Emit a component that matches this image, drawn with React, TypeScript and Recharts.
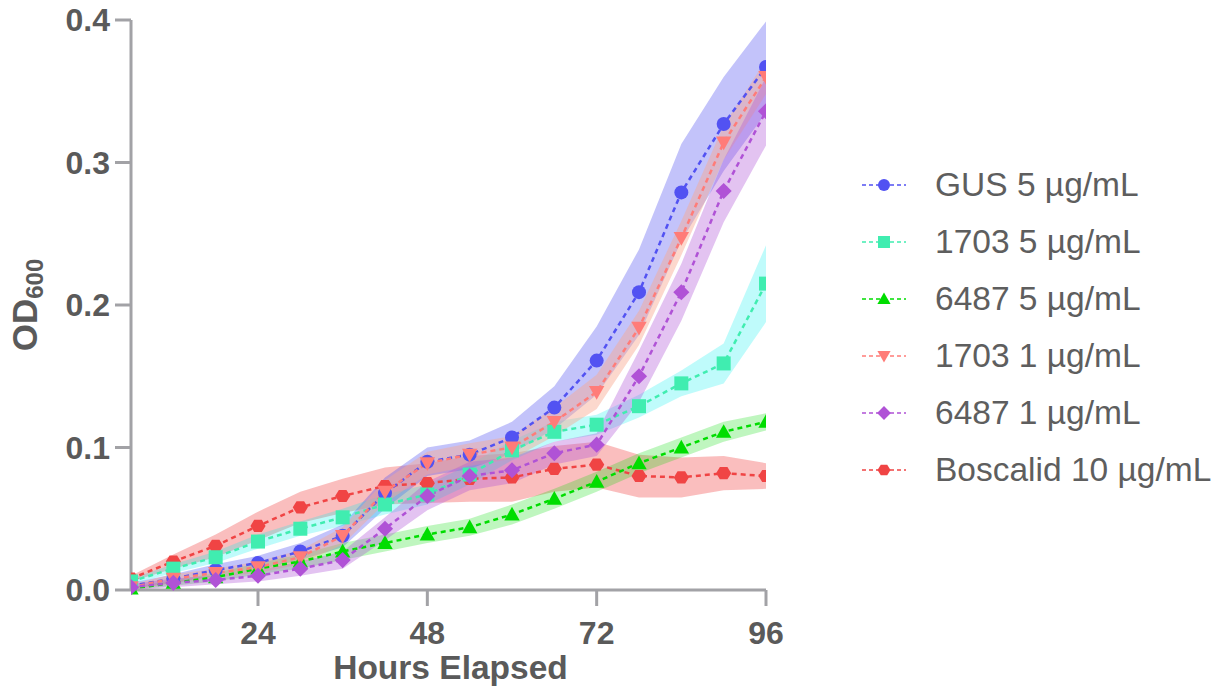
import React from 'react';
import { ComposedChart, Line, Area, XAxis, YAxis, Label } from 'recharts';

const hours = [6, 12, 18, 24, 30, 36, 42, 48, 54, 60, 66, 72, 78, 84, 90, 96];

const gus5 = [0.003, 0.008, 0.014, 0.019, 0.027, 0.038, 0.068, 0.090, 0.095, 0.107, 0.128, 0.161, 0.209, 0.279, 0.327, 0.367];
const gus5Err = [0.002, 0.003, 0.004, 0.005, 0.006, 0.008, 0.011, 0.010, 0.010, 0.011, 0.015, 0.024, 0.030, 0.034, 0.033, 0.032];

const s1703_5 = [0.006, 0.015, 0.023, 0.034, 0.043, 0.051, 0.060, 0.067, 0.081, 0.098, 0.111, 0.116, 0.129, 0.145, 0.159, 0.215];
const s1703_5Err = [0.002, 0.003, 0.004, 0.005, 0.005, 0.006, 0.007, 0.007, 0.007, 0.007, 0.007, 0.007, 0.008, 0.009, 0.014, 0.027];

const s6487_5 = [0.001, 0.005, 0.009, 0.015, 0.020, 0.027, 0.033, 0.039, 0.044, 0.053, 0.064, 0.076, 0.089, 0.100, 0.111, 0.118];
const s6487_5Err = [0.001, 0.002, 0.003, 0.004, 0.005, 0.006, 0.006, 0.006, 0.006, 0.007, 0.007, 0.007, 0.007, 0.007, 0.007, 0.006];

const s1703_1 = [0.002, 0.008, 0.012, 0.016, 0.023, 0.038, 0.069, 0.089, 0.095, 0.100, 0.118, 0.139, 0.184, 0.247, 0.314, 0.360];
const s1703_1Err = [0.002, 0.003, 0.003, 0.004, 0.005, 0.006, 0.008, 0.008, 0.008, 0.008, 0.010, 0.012, 0.012, 0.012, 0.012, 0.012];

const s6487_1 = [0.002, 0.005, 0.007, 0.010, 0.015, 0.021, 0.043, 0.066, 0.080, 0.084, 0.096, 0.102, 0.150, 0.209, 0.280, 0.336];
const s6487_1Err = [0.002, 0.003, 0.003, 0.004, 0.005, 0.006, 0.008, 0.010, 0.010, 0.009, 0.008, 0.008, 0.018, 0.020, 0.022, 0.024];

const boscalid = [0.008, 0.020, 0.031, 0.045, 0.058, 0.066, 0.073, 0.075, 0.078, 0.079, 0.085, 0.088, 0.080, 0.079, 0.082, 0.080];
const boscalidErr = [0.002, 0.005, 0.008, 0.010, 0.011, 0.012, 0.013, 0.014, 0.016, 0.017, 0.016, 0.016, 0.015, 0.014, 0.012, 0.009];

const xTicks = [24, 48, 72, 96];
const yTicks = [0, 0.1, 0.2, 0.3, 0.4];

type Shape = 'circle' | 'square' | 'triangle' | 'triangleDown' | 'diamond' | 'hexagon';

const seriesDefs = [
  { key: 'boscalid', name: 'Boscalid 10 µg/mL', values: boscalid, err: boscalidErr, color: '#F04444', band: '#F04444', bandOpacity: 0.35, shape: 'hexagon' as Shape },
  { key: 'gus5', name: 'GUS 5 µg/mL', values: gus5, err: gus5Err, color: '#5252F2', band: '#5252F2', bandOpacity: 0.35, shape: 'circle' as Shape },
  { key: 's1703_5', name: '1703 5 µg/mL', values: s1703_5, err: s1703_5Err, color: '#40EDB0', band: '#00F0F0', bandOpacity: 0.25, shape: 'square' as Shape },
  { key: 's6487_5', name: '6487 5 µg/mL', values: s6487_5, err: s6487_5Err, color: '#00DD00', band: '#00DD00', bandOpacity: 0.25, shape: 'triangle' as Shape },
  { key: 's1703_1', name: '1703 1 µg/mL', values: s1703_1, err: s1703_1Err, color: '#FF7C78', band: '#F8A890', bandOpacity: 0.45, shape: 'triangleDown' as Shape },
  { key: 's6487_1', name: '6487 1 µg/mL', values: s6487_1, err: s6487_1Err, color: '#B052D6', band: '#B052D6', bandOpacity: 0.35, shape: 'diamond' as Shape },
];

const legendOrder = ['gus5', 's1703_5', 's6487_5', 's1703_1', 's6487_1', 'boscalid'];

const data = hours.map((h, i) => {
  const row: any = { h };
  seriesDefs.forEach((s) => {
    row[s.key] = s.values[i];
    row[s.key + 'R'] = [Math.max(0, s.values[i] - s.err[i]), s.values[i] + s.err[i]];
  });
  return row;
});

function Marker({ shape, x, y, color, size }: { shape: Shape; x: number; y: number; color: string; size: number }) {
  const r = size / 2;
  switch (shape) {
    case 'circle':
      return <circle cx={x} cy={y} r={r} fill={color} />;
    case 'square':
      return <rect x={x - r} y={y - r} width={size} height={size} fill={color} />;
    case 'triangle':
      return <polygon points={`${x},${y - r * 1.1} ${x + r * 1.1},${y + r * 0.85} ${x - r * 1.1},${y + r * 0.85}`} fill={color} />;
    case 'triangleDown':
      return <polygon points={`${x},${y + r * 1.1} ${x + r * 1.1},${y - r * 0.85} ${x - r * 1.1},${y - r * 0.85}`} fill={color} />;
    case 'diamond':
      return <polygon points={`${x},${y - r * 1.15} ${x + r * 1.15},${y} ${x},${y + r * 1.15} ${x - r * 1.15},${y}`} fill={color} />;
    case 'hexagon': {
      const pts = [0, 60, 120, 180, 240, 300]
        .map((a) => {
          const rad = (a * Math.PI) / 180;
          return `${x + r * 1.08 * Math.cos(rad)},${y + r * 1.0 * Math.sin(rad)}`;
        })
        .join(' ');
      return <polygon points={pts} fill={color} />;
    }
  }
  return null;
}

const makeDot = (shape: Shape, color: string) => (props: any) => {
  const { cx, cy, index } = props;
  if (cx == null || cy == null) return <g key={index} />;
  return (
    <g key={index}>
      <Marker shape={shape} x={cx} y={cy} color={color} size={14} />
    </g>
  );
};

const textColor = '#5a5a5a';
const axisColor = '#A2A2A6';

const YTitle = (props: any) => {
  const cx = 37;
  const cy = 305;
  return (
    <text
      x={cx}
      y={cy}
      transform={`rotate(-90, ${cx}, ${cy})`}
      textAnchor="middle"
      fill={textColor}
      fontFamily="'Liberation Sans', Arial, sans-serif"
      fontWeight="bold"
      fontSize={35}
    >
      OD
      <tspan fontSize={24} dy={6}>600</tspan>
    </text>
  );
};

const XTitle = (props: any) => {
  const vb = props.viewBox || { x: 131, width: 635 };
  return (
    <text
      x={vb.x + vb.width / 2 + 2}
      y={679}
      textAnchor="middle"
      fill={textColor}
      fontFamily="'Liberation Sans', Arial, sans-serif"
      fontWeight="bold"
      fontSize={33.5}
    >
      Hours Elapsed
    </text>
  );
};

function LegendBox() {
  return (
    <div style={{ position: 'absolute', left: 858, top: 156, width: 367 }}>
      {legendOrder.map((k) => {
        const s = seriesDefs.find((d) => d.key === k)!;
        return (
          <div key={k} style={{ height: 57, display: 'flex', alignItems: 'center' }}>
            <svg width={50} height={20} style={{ flex: 'none' }}>
              <line x1={4} y1={10} x2={48} y2={10} stroke={s.color} strokeWidth={1.5} strokeDasharray="4 3" />
              <Marker shape={s.shape} x={26} y={10} color={s.color} size={12} />
            </svg>
            <span
              style={{
                marginLeft: 27,
                fontFamily: "'Liberation Sans', Arial, sans-serif",
                fontSize: 33.5,
                color: '#5e5e5e',
                whiteSpace: 'nowrap',
                lineHeight: '57px',
              }}
            >
              {s.name}
            </span>
          </div>
        );
      })}
    </div>
  );
}

export default function App() {
  return (
    <div style={{ position: 'absolute', left: 0, top: 0, width: 1225, height: 689, background: '#ffffff', overflow: 'hidden' }}>
      <ComposedChart width={1225} height={689} data={data} margin={{ top: 20, right: 459, left: 0, bottom: 0 }}>
        <XAxis
          dataKey="h"
          type="number"
          domain={[6, 96]}
          ticks={xTicks}
          allowDataOverflow
          height={99}
          axisLine={{ stroke: axisColor, strokeWidth: 3 }}
          tickLine={{ stroke: axisColor, strokeWidth: 3 }}
          tickSize={16}
          tickMargin={15}
          tick={{ fill: textColor, fontSize: 32, fontWeight: 'bold', fontFamily: "'Liberation Sans', Arial, sans-serif" }}
        >
          <Label content={XTitle} />
        </XAxis>
        <YAxis
          type="number"
          domain={[0, 0.4]}
          ticks={yTicks}
          width={131}
          axisLine={{ stroke: axisColor, strokeWidth: 3 }}
          tickLine={{ stroke: axisColor, strokeWidth: 3 }}
          tickSize={16}
          tickMargin={5}
          tickFormatter={(v: number) => v.toFixed(1)}
          tick={{ fill: textColor, fontSize: 32, fontWeight: 'bold', fontFamily: "'Liberation Sans', Arial, sans-serif" }}
        >
          <Label content={YTitle} />
        </YAxis>
        {seriesDefs.map((s) => (
          <Area
            key={s.key + 'R'}
            dataKey={s.key + 'R'}
            type="linear"
            stroke="none"
            fill={s.band}
            fillOpacity={s.bandOpacity}
            isAnimationActive={false}
            activeDot={false}
            legendType="none"
          />
        ))}
        {seriesDefs.map((s) => (
          <Line
            key={s.key}
            dataKey={s.key}
            name={s.name}
            type="linear"
            stroke={s.color}
            strokeWidth={2.5}
            strokeDasharray="5 4"
            dot={makeDot(s.shape, s.color)}
            activeDot={false}
            isAnimationActive={false}
          />
        ))}
      </ComposedChart>
      <LegendBox />
    </div>
  );
}
